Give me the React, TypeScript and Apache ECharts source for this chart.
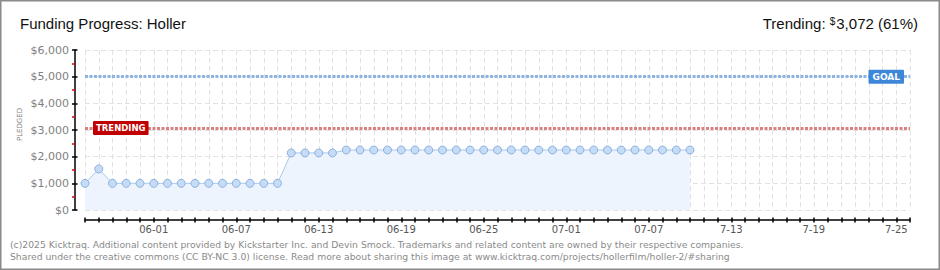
import React, { useEffect, useRef } from "react";
import * as echarts from "echarts";

const categories = [
  "05-27", "05-28", "05-29", "05-30", "05-31",
  "06-01", "06-02", "06-03", "06-04", "06-05", "06-06", "06-07", "06-08", "06-09", "06-10",
  "06-11", "06-12", "06-13", "06-14", "06-15", "06-16", "06-17", "06-18", "06-19", "06-20",
  "06-21", "06-22", "06-23", "06-24", "06-25", "06-26", "06-27", "06-28", "06-29", "06-30",
  "07-01", "07-02", "07-03", "07-04", "07-05", "07-06", "07-07", "07-08", "07-09", "07-10",
  "7-11", "7-12", "7-13", "7-14", "7-15", "7-16", "7-17", "7-18", "7-19", "7-20",
  "7-21", "7-22", "7-23", "7-24", "7-25", "7-26",
];

const pledged = [
  1000, 1540, 1000, 1000, 1000,
  1000, 1000, 1000, 1000, 1000, 1000, 1000, 1000, 1000, 1000,
  2140, 2140, 2140, 2140, 2250, 2250, 2250, 2250, 2250, 2250,
  2250, 2250, 2250, 2250, 2250, 2250, 2250, 2250, 2250, 2250,
  2250, 2250, 2250, 2250, 2250, 2250, 2250, 2250, 2250, 2250,
];

const goalValue = 5000;
const trendingValue = 3072;
const yMin = 0;
const yMax = 6000;
const yStep = 1000;

const titleText = "Funding Progress: Holler";
const trendingLabel = "Trending:";
const trendingAmount = "3,072 (61%)";
const footerLines = [
  "(c)2025 Kicktraq. Additional content provided by Kickstarter Inc. and Devin Smock. Trademarks and related content are owned by their respective companies.",
  "Shared under the creative commons (CC BY-NC 3.0) license. Read more about sharing this image at www.kicktraq.com/projects/hollerfilm/holler-2/#sharing",
];

const FONT = "'DejaVu Sans', sans-serif";
const TITLE_FONT = "'Liberation Sans', sans-serif";

export default function App() {
  const ref = useRef<HTMLDivElement>(null);

  useEffect(() => {
    if (!ref.current) return;
    const chart = echarts.init(ref.current, undefined, { renderer: "svg" });
    const showLabel = (i: number) => i >= 5 && (i - 5) % 6 === 0;

    chart.setOption({
      animation: false,
      backgroundColor: "#ffffff",
      grid: { left: 85, right: 30, top: 50, bottom: 60, containLabel: false },
      xAxis: [
        {
          type: "category",
          data: categories,
          boundaryGap: false,
          position: "bottom",
          offset: 10,
          axisLine: { show: true, onZero: false, lineStyle: { color: "#000", width: 1.5 } },
          axisTick: { show: true, interval: 0, length: 2.5, inside: false, lineStyle: { color: "#000", width: 1.5 } },
          axisLabel: {
            interval: (i: number) => showLabel(i),
            color: "#555",
            fontFamily: FONT,
            fontSize: 10,
            margin: 4,
          },
          splitLine: { show: true, interval: 0, lineStyle: { color: "#e2e2e2", type: [5, 3], width: 1 } },
        },
        {
          type: "category",
          data: categories,
          boundaryGap: false,
          position: "bottom",
          offset: 10,
          axisLine: { show: false, onZero: false },
          axisTick: { show: true, interval: 0, length: 2.5, inside: true, lineStyle: { color: "#000", width: 1.5 } },
          axisLabel: { show: false },
          splitLine: { show: false },
        },
      ],
      yAxis: [
        {
          type: "value",
          min: yMin,
          max: yMax,
          interval: yStep,
          position: "left",
          offset: 10,
          axisLine: { show: true, onZero: false, lineStyle: { color: "#000", width: 1.5 } },
          axisTick: { show: true, length: 3, lineStyle: { color: "#000", width: 1.5 } },
          minorTick: { show: true, splitNumber: 2, length: 3, lineStyle: { color: "#e00000", width: 1.5 } },
          axisLabel: {
            color: "#808080",
            fontFamily: FONT,
            fontSize: 11,
            margin: 6,
            formatter: (v: number) => "$" + v.toLocaleString("en-US"),
          },
          splitLine: { show: true, lineStyle: { color: "#e2e2e2", type: [5, 3], width: 1 } },
        },
        {
          type: "value",
          min: yMin,
          max: yMax,
          interval: yStep,
          position: "left",
          offset: 10,
          axisLine: { show: false, onZero: false },
          axisTick: { show: true, inside: true, length: 2.5, lineStyle: { color: "#000", width: 1.5 } },
          axisLabel: { show: false },
          splitLine: { show: false },
        },
      ],
      series: [
        {
          type: "line",
          xAxisIndex: 0,
          yAxisIndex: 0,
          data: pledged,
          symbol: "circle",
          symbolSize: 8,
          showAllSymbol: true,
          lineStyle: { color: "#a9c8ee", width: 1 },
          itemStyle: { color: "#c5dcf7", borderColor: "#8eb1de", borderWidth: 1 },
          areaStyle: { color: "#edf4fd", opacity: 1 },
          z: 3,
          markLine: {
            silent: true,
            symbol: "none",
            z: 4,
            data: [
              {
                yAxis: goalValue,
                lineStyle: { color: "#8fb4e2", width: 3, type: [3, 1.5] },
                label: {
                  show: true,
                  formatter: "GOAL",
                  position: "insideEnd",
                  distance: 6,
                  color: "#fff",
                  backgroundColor: "#3d86d8",
                  fontFamily: FONT,
                  fontSize: 9,
                  fontWeight: "bold",
                  padding: [3, 4, 2, 4],
                  borderRadius: 1,
                },
              },
              {
                yAxis: trendingValue,
                lineStyle: { color: "#d98080", width: 3, type: [3, 1.5] },
                label: {
                  show: true,
                  formatter: "TRENDING",
                  position: "insideStart",
                  distance: 8,
                  color: "#fff",
                  backgroundColor: "#c00000",
                  fontFamily: FONT,
                  fontSize: 8.5,
                  fontWeight: "bold",
                  padding: [3, 3, 2, 3],
                  borderRadius: 1,
                },
              },
            ],
          },
        },
      ],
      graphic: [
        {
          type: "rect",
          shape: { x: 0.75, y: 0.75, width: 938.5, height: 268.5 },
          style: { fill: "none", stroke: "#8a8a8a", lineWidth: 1.5 },
          silent: true,
        },
        {
          type: "text",
          left: 20,
          top: 16,
          style: { text: titleText, fill: "#111", font: `15px ${TITLE_FONT}` },
        },
        {
          type: "text",
          right: 22,
          top: 16,
          style: {
            text: `{a|${trendingLabel} }{s|$}{b|${trendingAmount}}`,
            rich: {
              a: { fontFamily: TITLE_FONT, fontSize: 15, fill: "#111", verticalAlign: "bottom" },
              s: { fontFamily: TITLE_FONT, fontSize: 10, fill: "#111", verticalAlign: "top", padding: [0, 1, 5, 0] },
              b: { fontFamily: TITLE_FONT, fontSize: 15, fill: "#111", verticalAlign: "bottom" },
            },
          },
        },
        {
          type: "text",
          x: 20,
          y: 124.5,
          rotation: Math.PI / 2,
          style: {
            text: "PLEDGED",
            fill: "#808080",
            font: `7px ${FONT}`,
            align: "center",
            verticalAlign: "middle",
          },
        },
        {
          type: "text",
          x: 10,
          y: 244,
          style: { text: footerLines[0], fill: "#8a8a8a", font: `9.25px ${FONT}`, verticalAlign: "middle" },
        },
        {
          type: "text",
          x: 10,
          y: 256,
          style: { text: footerLines[1], fill: "#8a8a8a", font: `9.25px ${FONT}`, verticalAlign: "middle" },
        },
      ],
    });

    return () => chart.dispose();
  }, []);

  return (
    <div
      ref={ref}
      style={{ position: "absolute", left: 0, top: 0, width: 940, height: 270 }}
    />
  );
}
